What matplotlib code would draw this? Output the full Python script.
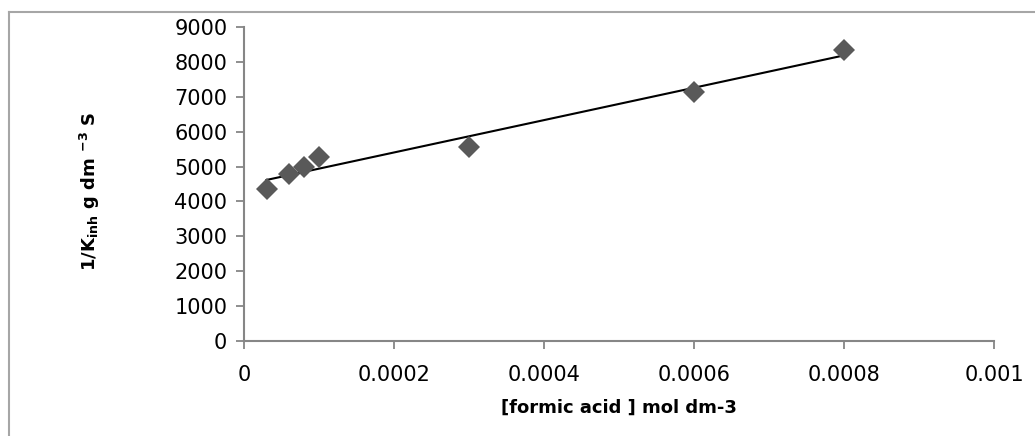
import numpy as np
import matplotlib
matplotlib.use("Agg")
import matplotlib.pyplot as plt
from matplotlib.lines import Line2D

# Data
formic_acid = [0.00003, 0.00006, 0.00008, 0.0001, 0.0003, 0.0006, 0.0008]
inv_k_inh = [4370, 4780, 5000, 5270, 5570, 7150, 8330]
x_ticks = [0, 0.0002, 0.0004, 0.0006, 0.0008, 0.001]
x_tick_labels = ["0", "0.0002", "0.0004", "0.0006", "0.0008", "0.001"]
y_ticks = [0, 1000, 2000, 3000, 4000, 5000, 6000, 7000, 8000, 9000]

plt.rcParams['font.family'] = ['DejaVu Sans']
plt.rcParams['mathtext.fontset'] = 'dejavusans'

W, H = 1035, 436
fig = plt.figure(figsize=(W / 100, H / 100), dpi=100)
ax = fig.add_axes([244 / W, 1 - 341 / H, (994 - 244) / W, (341 - 27) / H])

# Trendline (linear fit)
coef = np.polyfit(formic_acid, inv_k_inh, 1)
xs = np.array([min(formic_acid), max(formic_acid)])
ax.plot(xs, np.polyval(coef, xs), color='black', lw=1.5, zorder=2)

ax.plot(formic_acid, inv_k_inh, linestyle='none', marker='D', ms=11,
        color='#595959', markeredgewidth=0, zorder=3)

ax.set_xlim(0, 0.001)
ax.set_ylim(0, 9000)
ax.set_xticks(x_ticks)
ax.set_xticklabels(x_tick_labels)
ax.set_yticks(y_ticks)

axis_col = '#868686'
for s in ['top', 'right']:
    ax.spines[s].set_visible(False)
for s in ['left', 'bottom']:
    ax.spines[s].set_color(axis_col)
    ax.spines[s].set_linewidth(1.5)
ax.tick_params(axis='both', direction='out', length=6, width=1.3, color=axis_col,
               labelsize=15, labelcolor='black')
ax.tick_params(axis='y', pad=6)
ax.tick_params(axis='x', pad=11)

ax.set_xlabel('[formic acid ] mol dm-3', fontsize=13, fontweight='bold')
ax.xaxis.set_label_coords(0.5, -(399 - 341) / 314)
ax.set_ylabel(r'1/K$_{\mathbf{inh}}$ g dm $^{\mathbf{-3}}$ S', fontsize=13, fontweight='bold')
ax.yaxis.set_label_coords((102 - 244) / 750, (341 - 191) / 314)

# Outer chart frame (partially visible)
frame_col = '#a6a6a6'
fig.add_artist(Line2D([9 / W, 9 / W], [0, 1 - 12 / H], transform=fig.transFigure,
                      color=frame_col, lw=1.5))
fig.add_artist(Line2D([9 / W, 1], [1 - 12 / H, 1 - 12 / H], transform=fig.transFigure,
                      color=frame_col, lw=1.5))

fig.savefig('out.png', dpi=100)
